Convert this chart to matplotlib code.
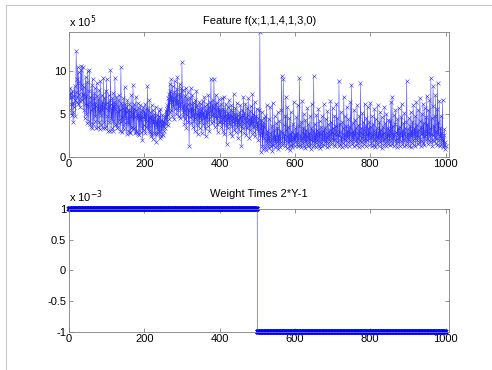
import numpy as np
import matplotlib
matplotlib.use('Agg')
import matplotlib.pyplot as plt
from matplotlib.lines import Line2D
from matplotlib.ticker import FuncFormatter

plt.rcParams['font.family'] = ['Liberation Sans', 'DejaVu Sans']
plt.rcParams['font.size'] = 8

# feature values, in tenths of 1e5 (50 samples per row)
feature_tenths = [
    55, 72, 80, 68, 74, 61, 49, 70, 77, 52, 40, 63, 58, 71, 82, 66, 48, 75, 123, 90, 64, 70, 104, 86, 62, 99, 73, 65, 58, 68, 101, 79, 106, 84, 66, 73, 104, 72, 55, 81, 68, 45, 62, 93, 71, 50, 87, 39, 61, 100,
    59, 42, 76, 101, 64, 38, 70, 35, 55, 83, 62, 34, 91, 57, 38, 68, 74, 42, 80, 47, 63, 33, 59, 86, 71, 35, 56, 67, 40, 78, 53, 32, 88, 49, 60, 37, 72, 55, 64, 33, 92, 58, 40, 69, 34, 61, 77, 36, 57, 90,
    63, 48, 30, 55, 72, 41, 58, 66, 30, 101, 62, 45, 57, 33, 68, 42, 74, 30, 59, 64, 37, 92, 56, 38, 61, 70, 34, 53, 35, 66, 58, 39, 72, 43, 55, 30, 63, 104, 41, 46, 60, 29, 57, 68, 32, 54, 36, 81, 39, 62,
    45, 58, 27, 52, 66, 41, 30, 55, 38, 62, 29, 53, 28, 47, 72, 34, 58, 35, 50, 83, 32, 56, 33, 61, 46, 28, 54, 70, 30, 29, 51, 45, 63, 26, 48, 57, 25, 44, 60, 29, 52, 47, 34, 55, 19, 46, 58, 31, 37, 53,
    44, 61, 28, 50, 35, 57, 42, 82, 37, 33, 55, 30, 66, 29, 45, 52, 27, 48, 24, 60, 43, 21, 54, 39, 46, 28, 50, 26, 42, 58, 17, 41, 35, 49, 26, 44, 28, 53, 30, 47, 22, 40, 56, 24, 43, 27, 38, 49, 25, 36,
    42, 30, 39, 48, 33, 45, 53, 38, 56, 42, 60, 37, 68, 49, 73, 44, 85, 52, 77, 64, 90, 55, 71, 48, 82, 67, 59, 75, 44, 69, 88, 56, 63, 72, 50, 79, 61, 93, 54, 66, 47, 73, 58, 85, 62, 45, 70, 80, 57, 110,
    65, 52, 78, 47, 60, 38, 71, 55, 44, 80, 58, 34, 67, 49, 62, 75, 41, 56, 13, 53, 69, 46, 61, 80, 39, 57, 48, 72, 35, 54, 63, 42, 51, 30, 66, 45, 58, 77, 37, 50, 60, 26, 48, 56, 40, 64, 33, 52, 46, 61,
    43, 57, 28, 50, 65, 38, 52, 45, 70, 33, 48, 59, 24, 46, 55, 41, 62, 36, 51, 72, 44, 58, 30, 53, 64, 47, 91, 55, 39, 60, 49, 66, 42, 57, 91, 50, 35, 61, 46, 72, 54, 38, 63, 45, 29, 58, 48, 67, 41, 55,
    52, 40, 61, 35, 48, 68, 44, 30, 56, 39, 70, 47, 26, 53, 42, 62, 37, 49, 15, 45, 58, 33, 51, 41, 66, 38, 47, 28, 55, 43, 60, 36, 48, 24, 52, 40, 73, 45, 31, 50, 38, 57, 29, 46, 41, 63, 35, 49, 22, 44,
    38, 52, 30, 45, 60, 36, 48, 13, 42, 55, 33, 47, 70, 39, 28, 51, 43, 62, 35, 46, 25, 40, 57, 34, 49, 68, 37, 44, 22, 53, 41, 31, 59, 38, 46, 27, 73, 42, 35, 50, 29, 45, 64, 36, 24, 48, 39, 56, 33, 41,
    30, 45, 20, 38, 55, 25, 145, 34, 6, 43, 28, 52, 12, 37, 9, 40, 22, 45, 35, 11, 48, 19, 8, 26, 60, 16, 30, 13, 21, 44, 10, 24, 17, 58, 28, 12, 20, 36, 15, 7, 63, 23, 14, 31, 19, 47, 11, 25, 16, 39,
    20, 13, 34, 18, 52, 9, 25, 15, 42, 22, 11, 30, 17, 55, 94, 28, 14, 23, 90, 37, 16, 26, 12, 48, 19, 70, 31, 10, 24, 58, 17, 35, 13, 21, 45, 8, 27, 18, 52, 14, 29, 20, 11, 38, 23, 15, 64, 19, 26, 12,
    33, 18, 24, 46, 15, 28, 12, 60, 21, 17, 36, 92, 14, 25, 19, 40, 11, 29, 65, 22, 16, 34, 13, 50, 20, 27, 10, 43, 18, 31, 15, 24, 57, 12, 22, 38, 17, 28, 14, 47, 21, 9, 33, 19, 62, 25, 13, 30, 18, 94,
    22, 14, 38, 17, 27, 11, 49, 20, 31, 15, 24, 56, 13, 29, 18, 42, 10, 26, 35, 16, 21, 47, 12, 30, 19, 25, 61, 14, 33, 20, 17, 44, 23, 11, 28, 53, 16, 24, 38, 13, 21, 31, 18, 65, 26, 15, 40, 22, 29, 57,
    19, 34, 14, 27, 48, 21, 12, 36, 25, 62, 17, 30, 45, 20, 26, 13, 88, 24, 38, 15, 29, 52, 18, 23, 11, 41, 27, 16, 33, 70, 21, 14, 47, 25, 19, 36, 12, 58, 23, 30, 17, 44, 26, 13, 35, 20, 64, 28, 18, 84,
    24, 15, 39, 21, 30, 12, 55, 26, 18, 43, 20, 33, 14, 28, 60, 22, 16, 37, 25, 11, 48, 19, 29, 86, 17, 34, 23, 13, 51, 27, 20, 40, 15, 31, 62, 22, 18, 36, 12, 45, 26, 19, 58, 24, 33, 14, 41, 21, 28, 63,
    16, 35, 23, 12, 47, 25, 19, 38, 14, 30, 56, 21, 27, 11, 44, 18, 33, 24, 15, 60, 22, 29, 13, 40, 20, 52, 17, 31, 24, 10, 46, 26, 19, 35, 14, 28, 58, 21, 16, 39, 23, 12, 50, 27, 18, 34, 15, 43, 25, 20,
    31, 14, 42, 22, 64, 18, 27, 70, 15, 36, 23, 12, 49, 26, 19, 38, 54, 16, 29, 21, 11, 44, 25, 33, 17, 57, 22, 13, 35, 28, 18, 46, 24, 62, 15, 30, 20, 39, 12, 27, 51, 19, 34, 23, 14, 41, 88, 26, 17, 32,
    21, 13, 45, 26, 18, 36, 11, 52, 24, 30, 16, 41, 20, 60, 27, 14, 33, 22, 47, 12, 29, 64, 19, 37, 25, 15, 55, 23, 31, 17, 42, 68, 21, 13, 35, 26, 50, 18, 28, 62, 16, 39, 24, 14, 57, 30, 20, 46, 25, 71,
    22, 38, 15, 54, 28, 19, 66, 24, 33, 17, 92, 27, 45, 20, 13, 59, 82, 25, 36, 18, 48, 23, 72, 16, 30, 21, 56, 14, 86, 26, 40, 19, 65, 24, 12, 34, 22, 48, 15, 28, 18, 66, 20, 11, 25, 14, 32, 9, 17, 12,
]

# second panel: weight times (2*Y - 1)
weight = 1e-3
label_signs = [1, -1]
label_counts = [500, 500]

feature = np.array(feature_tenths) * 1e4
x_feat = np.arange(1, len(feature) + 1)
wy = weight * np.repeat(label_signs, label_counts)
x_w = np.arange(1, len(wy) + 1)

axis_gray = '#7f7f7f'

fig = plt.figure(figsize=(4.92, 3.70), dpi=100)
ax1 = fig.add_axes([0.1402, 0.5765, 0.7730, 0.3362])
ax2 = fig.add_axes([0.1402, 0.1035, 0.7730, 0.3316])


def style(ax):
    for s in ax.spines.values():
        s.set_color(axis_gray)
        s.set_linewidth(0.6)
    ax.tick_params(direction='in', length=3, width=0.6, color=axis_gray,
                   labelcolor='black', labelsize=8, top=True, right=True, pad=2)
    ax.set_xlim(0, 1010)
    ax.set_xticks([0, 200, 400, 600, 800, 1000])


ax1.plot(x_feat, feature, '-', color='#2a2aff', linewidth=0.3)
ax1.plot(x_feat, feature, 'x', color='#3030ff', markersize=3.2,
         markeredgewidth=0.4)
style(ax1)
ax1.set_ylim(0, feature.max())
ax1.set_yticks([0, 5e5, 10e5])
ax1.yaxis.set_major_formatter(FuncFormatter(lambda v, p: f'{v / 1e5:g}'))
ax1.set_title('Feature f(x;1,1,4,1,3,0)', fontsize=8, pad=6)
ax1.text(0, 1.02, r'x 10$^{5}$', transform=ax1.transAxes, fontsize=8,
         ha='left', va='bottom')

ax2.plot(x_w, wy, '-', color='#6060ff', linewidth=0.5, clip_on=False)
ax2.plot(x_w, wy, 'x', color='b', markersize=2.2, markeredgewidth=1.3,
         clip_on=False)
style(ax2)
ax2.set_ylim(-1e-3, 1e-3)
ax2.set_yticks([-1e-3, -0.5e-3, 0, 0.5e-3, 1e-3])
ax2.yaxis.set_major_formatter(FuncFormatter(lambda v, p: f'{v / 1e-3:g}'))
ax2.set_title('Weight Times 2*Y-1', fontsize=8, pad=9)
ax2.text(0, 1.03, r'x 10$^{-3}$', transform=ax2.transAxes, fontsize=8,
         ha='left', va='bottom')

# light frame along the top and left edge
top_y = 1 - 4.5 / 370
left_x = 5.5 / 492
fig.add_artist(Line2D([left_x, 1], [top_y, top_y], color='#c8c8c8', linewidth=0.8))
fig.add_artist(Line2D([left_x, left_x], [0, top_y], color='#c8c8c8', linewidth=0.8))

fig.savefig('out.png', dpi=100)
